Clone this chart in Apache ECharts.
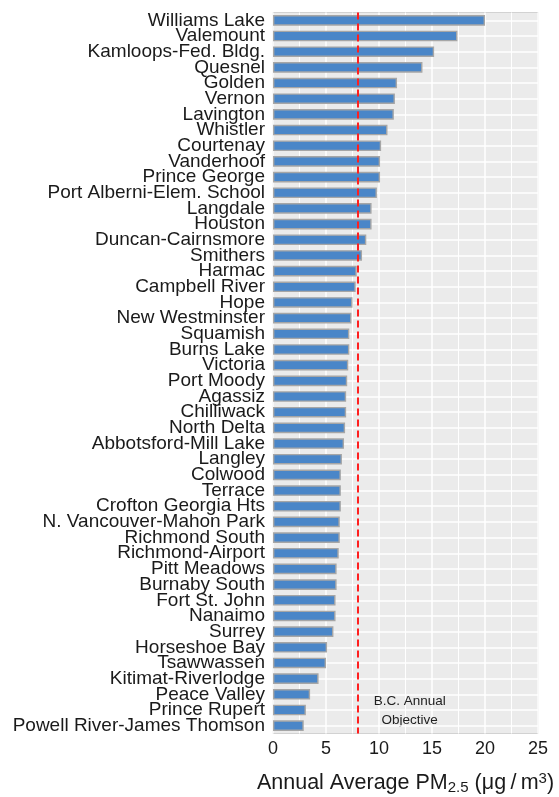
<!DOCTYPE html>
<html>
<head>
<meta charset="utf-8">
<script src="https://cdn.jsdelivr.net/npm/echarts@6/dist/echarts.min.js"></script>
<style>
  html, body { margin: 0; padding: 0; background: #ffffff; }
  #chart { width: 559px; height: 797px; }
</style>
</head>
<body>
<div id="chart"></div>
<script>
// Monitoring stations, sorted from highest to lowest annual average
const stations = [
  'Williams Lake', 'Valemount', 'Kamloops-Fed. Bldg.', 'Quesnel', 'Golden',
  'Vernon', 'Lavington', 'Whistler', 'Courtenay', 'Vanderhoof',
  'Prince George', 'Port Alberni-Elem. School', 'Langdale', 'Houston',
  'Duncan-Cairnsmore', 'Smithers', 'Harmac', 'Campbell River', 'Hope',
  'New Westminster', 'Squamish', 'Burns Lake', 'Victoria', 'Port Moody',
  'Agassiz', 'Chilliwack', 'North Delta', 'Abbotsford-Mill Lake', 'Langley',
  'Colwood', 'Terrace', 'Crofton Georgia Hts', 'N. Vancouver-Mahon Park',
  'Richmond South', 'Richmond-Airport', 'Pitt Meadows', 'Burnaby South',
  'Fort St. John', 'Nanaimo', 'Surrey', 'Horseshoe Bay', 'Tsawwassen',
  'Kitimat-Riverlodge', 'Peace Valley', 'Prince Rupert',
  'Powell River-James Thomson'
];

// Annual average PM2.5 (µg/m³) per station
const pm25 = [
  20.0, 17.4, 15.2, 14.1, 11.7,
  11.5, 11.4, 10.8, 10.2, 10.1,
  10.1, 9.8, 9.3, 9.3,
  8.8, 8.4, 7.9, 7.8, 7.5,
  7.4, 7.2, 7.2, 7.1, 7.0,
  6.9, 6.9, 6.8, 6.7, 6.5,
  6.4, 6.4, 6.4, 6.3,
  6.3, 6.2, 6.0, 6.0,
  5.9, 5.9, 5.7, 5.1, 5.0,
  4.3, 3.5, 3.1,
  2.9
];

// B.C. annual objective for PM2.5
const objective = 8;
const objectiveLabel = ['B.C. Annual', 'Objective'];

// Value axis range and tick step
const xMin = 0;
const xMax = 25;
const xStep = 5;

const FONT = '"Liberation Sans", Arial, Helvetica, sans-serif';
const TEXT = '#1a1a1a';

const chart = echarts.init(document.getElementById('chart'), null, { renderer: 'canvas' });

const option = {
  animation: false,
  textStyle: { fontFamily: FONT },
  grid: {
    left: 273, right: 21, top: 12.5, bottom: 63.5,
    containLabel: false,
    outerBoundsMode: 'none',
    show: true,
    backgroundColor: '#EBEBEB',
    borderColor: '#D2D2D2',
    borderWidth: 1
  },
  xAxis: {
    type: 'value',
    min: xMin, max: xMax, interval: xStep,
    axisLine: { show: false },
    axisTick: { show: false },
    axisLabel: { fontSize: 18, color: TEXT, margin: 6.5, fontFamily: FONT },
    splitLine: { show: true, lineStyle: { color: '#FFFFFF', width: 1.5 } },
    minorTick: { show: false, splitNumber: 2 },
    minorSplitLine: { show: true, lineStyle: { color: '#FFFFFF', width: 1 } },
    name: '{a|Annual Average PM}{sub|2.5}{a| (μg\u2009/\u2009m}{sup|3}{a|)}',
    nameLocation: 'middle',
    nameGap: 37.5,
    nameTextStyle: {
      rich: {
        a: { fontSize: 21.5, color: TEXT, lineHeight: 24, fontFamily: FONT },
        sub: { fontSize: 15, color: TEXT, lineHeight: 12, verticalAlign: 'bottom', fontFamily: FONT },
        sup: { fontSize: 15, color: TEXT, lineHeight: 12, verticalAlign: 'top', fontFamily: FONT }
      }
    }
  },
  yAxis: {
    type: 'category',
    data: stations,
    inverse: true,
    axisLine: { show: false },
    axisTick: { show: false },
    splitLine: { show: false },
    axisLabel: { interval: 0, fontSize: 19, color: TEXT, margin: 8, fontFamily: FONT }
  },
  series: [
    {
      // white guide lines through each category centre, behind the bars
      type: 'line',
      data: [],
      silent: true,
      markLine: {
        z: 1,
        silent: true,
        symbol: 'none',
        label: { show: false },
        lineStyle: { color: '#FFFFFF', width: 1.5, type: 'solid' },
        data: stations.map(s => ({ yAxis: s }))
      }
    },
    {
      type: 'bar',
      data: pm25,
      z: 2,
      barWidth: 10.6,
      itemStyle: { color: '#4A86C8', borderColor: '#A6A6A6', borderWidth: 1.4 },
      markLine: {
        z: 5,
        silent: true,
        symbol: 'none',
        label: { show: false },
        lineStyle: { color: '#FF1F1F', width: 2, type: [7, 4] },
        data: [{ xAxis: objective }]
      }
    }
  ]
};

chart.setOption(option);

// Annotation next to the objective line, placed in data coordinates
const anchor = chart.convertToPixel({ xAxisIndex: 0, yAxisIndex: 0 }, [12.9, stations.length - 2]);
chart.setOption({
  graphic: objectiveLabel.map((txt, i) => ({
    type: 'text',
    x: anchor[0],
    y: anchor[1] + (i === 0 ? -9 : 10),
    silent: true,
    style: {
      text: txt,
      fontSize: 13.5,
      fontFamily: FONT,
      fill: '#222222',
      align: 'center',
      verticalAlign: 'middle'
    }
  }))
});
</script>
</body>
</html>
